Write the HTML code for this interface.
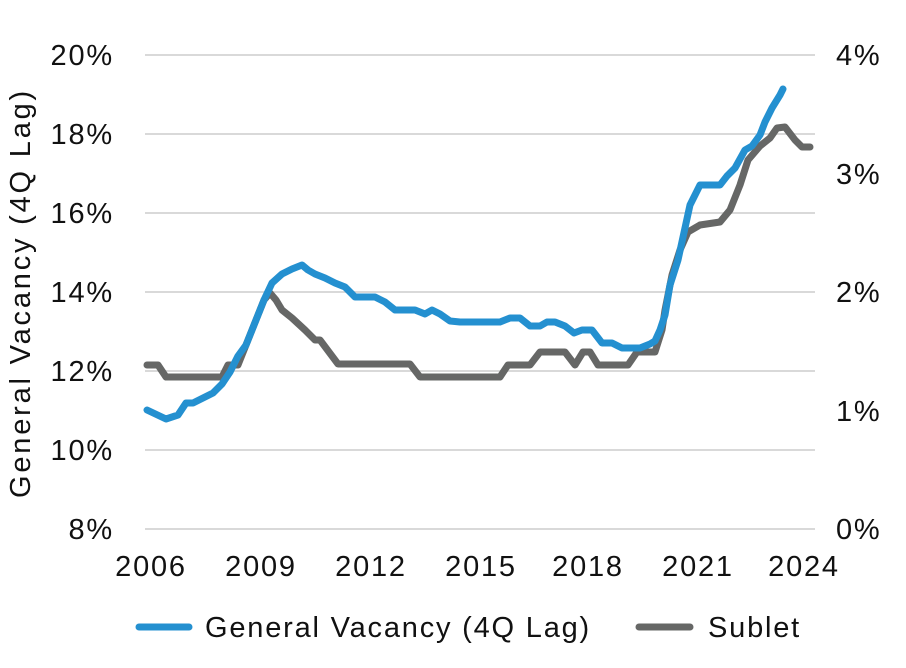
<!DOCTYPE html>
<html><head><meta charset="utf-8"><style>
body{margin:0;background:#fff}
svg{display:block;font-family:"Liberation Sans",sans-serif}
</style></head><body>
<svg width="906" height="668" viewBox="0 0 906 668">
<g stroke="#d9d9d9" stroke-width="2">
<line x1="145" y1="55" x2="815" y2="55"/><line x1="145" y1="134" x2="815" y2="134"/>
<line x1="145" y1="213" x2="815" y2="213"/><line x1="145" y1="292" x2="815" y2="292"/>
<line x1="145" y1="371" x2="815" y2="371"/><line x1="145" y1="450" x2="815" y2="450"/>
<line x1="145" y1="529" x2="815" y2="529"/>
</g>
<g font-size="29" letter-spacing="1.8" fill="#111" text-anchor="end">
<text x="114" y="65">20%</text><text x="114" y="144">18%</text><text x="114" y="223">16%</text>
<text x="114" y="302">14%</text><text x="114" y="381">12%</text><text x="114" y="460">10%</text>
<text x="114" y="539">8%</text>
</g>
<g font-size="29" letter-spacing="1.8" fill="#111">
<text x="836" y="65">4%</text><text x="836" y="184">3%</text><text x="836" y="302">2%</text>
<text x="836" y="421">1%</text><text x="836" y="539">0%</text>
</g>
<g font-size="29" letter-spacing="1.8" fill="#111" text-anchor="middle">
<text x="151" y="576">2006</text><text x="261" y="576">2009</text><text x="371" y="576">2012</text>
<text x="481" y="576">2015</text><text x="588" y="576">2018</text><text x="698" y="576">2021</text>
<text x="804" y="576">2024</text>
</g>
<text transform="translate(30,293) rotate(-90)" font-size="29" letter-spacing="2.8" fill="#111" text-anchor="middle">General Vacancy (4Q Lag)</text>
<polyline fill="none" stroke="#666766" stroke-width="7" stroke-linejoin="round" stroke-linecap="round" points="147,365 158,365 166,377 222,377 228,365 238,365 248,340 256,320 264,300 270,293 276,300 282,310 292,318 305,330 315,340 320,340 338,364 410,364 420,377 500,377 508,365 530,365 540,352 565,352 575,365 583,352 590,352 598,365 628,365 637,352 655,352 662,330 665,310 672,275 680,250 688,232 700,225 720,222 730,210 740,185 748,160 760,146 770,138 777,128 785,127 795,140 802,147 810,147"/>
<polyline fill="none" stroke="#2490d0" stroke-width="7" stroke-linejoin="round" stroke-linecap="round" points="147,410 166,419 178,415 186,403 193,403 203,398 213,393 222,384 230,372 238,356 246,345 252,330 258,315 264,300 272,283 282,274 292,269 302,265 308,270 315,274 325,278 335,283 345,287 355,297 375,297 385,302 395,310 415,310 425,314 432,310 440,314 450,321 460,322 500,322 510,318 520,318 530,326 540,326 547,322 555,322 565,326 574,333 582,330 592,330 602,343 612,343 622,348 640,348 650,344 655,341 660,330 665,315 670,285 678,260 690,205 700,185 720,185 727,176 735,168 745,150 752,146 760,135 765,122 772,108 780,95 783,89"/>
<line x1="139" y1="627" x2="189" y2="627" stroke="#2490d0" stroke-width="7" stroke-linecap="round"/>
<text x="205" y="637" font-size="29" letter-spacing="1.8" fill="#111">General Vacancy (4Q Lag)</text>
<line x1="639" y1="627" x2="690" y2="627" stroke="#666766" stroke-width="7" stroke-linecap="round"/>
<text x="708" y="637" font-size="29" letter-spacing="1.8" fill="#111">Sublet</text>
</svg>
</body></html>
